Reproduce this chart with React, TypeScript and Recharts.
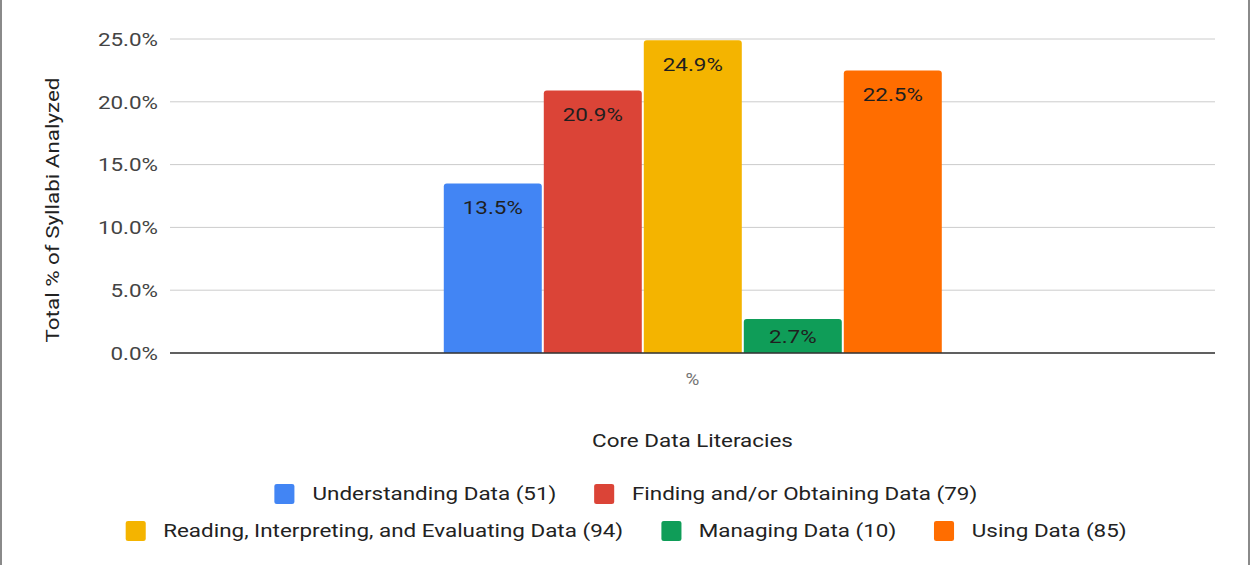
import { Bar, BarChart, CartesianGrid, LabelList, XAxis, YAxis } from "recharts";

const categories = ["%"];
const seriesNames = [
  "Understanding Data (51)",
  "Finding and/or Obtaining Data (79)",
  "Reading, Interpreting, and Evaluating Data (94)",
  "Managing Data (10)",
  "Using Data (85)",
];
const seriesValues = [13.5, 20.9, 24.9, 2.7, 22.5];
const seriesColors = ["#4285f4", "#db4437", "#f4b400", "#0f9d58", "#ff6d00"];
const yTicks = [0, 5, 10, 15, 20, 25];
const legendRows = [
  [0, 1],
  [2, 3, 4],
];

const data = categories.map((name) => {
  const row: Record<string, string | number> = { name };
  seriesNames.forEach((s, i) => {
    row[`s${i}`] = seriesValues[i];
  });
  return row;
});

const FONT = "Roboto, 'Noto Sans', sans-serif";
// the source picture is stretched sideways, so text is widened to match
const SX = 1.18;

function WideText({ x, y, anchor = "middle", rotate = 0, fill = "#222", size = 19, children }: any) {
  return (
    <text
      x={0}
      y={0}
      dy="0.355em"
      transform={`translate(${x} ${y}) rotate(${rotate}) scale(${SX} 1)`}
      textAnchor={anchor}
      fill={fill}
      fontSize={size}
      fontFamily={FONT}
    >
      {children}
    </text>
  );
}

// value label near the top of the bar, or in the middle when the bar is short
function BarValueLabel(props: any) {
  const { x, y, width, height, value } = props;
  const cy = Math.min(y + 24, y + height / 2);
  return (
    <WideText x={x + width / 2} y={cy} fill="#1f1f1f">
      {`${Number(value).toFixed(1)}%`}
    </WideText>
  );
}

function YTick({ x, y, payload }: any) {
  return (
    <WideText x={x} y={y} anchor="end" fill="#444">
      {`${Number(payload.value).toFixed(1)}%`}
    </WideText>
  );
}

function XTick({ x, y, payload }: any) {
  return (
    <WideText x={x} y={y + 6} fill="#757575" size={16}>
      {payload.value}
    </WideText>
  );
}

export default function App() {
  return (
    <div
      style={{
        position: "fixed",
        left: 0,
        top: 0,
        width: 1252,
        height: 565,
        background: "#fff",
        fontFamily: FONT,
        overflow: "hidden",
      }}
    >
      <BarChart
        width={1252}
        height={565}
        data={data}
        margin={{ top: 39, right: 37, left: 0, bottom: 112 }}
        barCategoryGap="26.2%"
        barGap={2}
      >
        <CartesianGrid stroke="#cccccc" vertical={false} />
        <XAxis
          dataKey="name"
          height={100}
          tickLine={false}
          tickSize={0}
          tickMargin={20}
          axisLine={{ stroke: "#333333", strokeWidth: 1.5 }}
          tick={<XTick />}
          label={{
            content: ({ viewBox }: any) => (
              <WideText x={viewBox.x + viewBox.width / 2} y={viewBox.y + 87}>
                Core Data Literacies
              </WideText>
            ),
          }}
        />
        <YAxis
          width={170}
          domain={[0, 25]}
          ticks={yTicks}
          interval={0}
          tickLine={false}
          tickSize={0}
          tickMargin={12}
          axisLine={false}
          tick={<YTick />}
          label={{
            content: () => (
              <WideText x={52} y={210} rotate={-90}>
                Total % of Syllabi Analyzed
              </WideText>
            ),
          }}
        />
        {seriesNames.map((s, i) => (
          <Bar
            key={s}
            dataKey={`s${i}`}
            name={s}
            fill={seriesColors[i]}
            radius={[3, 3, 0, 0]}
            isAnimationActive={false}
          >
            <LabelList dataKey={`s${i}`} content={<BarValueLabel />} />
          </Bar>
        ))}
      </BarChart>

      <div
        style={{
          position: "absolute",
          left: 0,
          top: 475,
          width: 1252,
          transform: `scaleX(${SX})`,
          transformOrigin: "626px 0",
        }}
      >
        {legendRows.map((row, r) => (
          <div
            key={r}
            style={{
              display: "flex",
              justifyContent: "center",
              alignItems: "center",
              gap: 32,
              height: 37,
            }}
          >
            {row.map((i) => (
              <div key={i} style={{ display: "flex", alignItems: "center" }}>
                <span
                  style={{
                    display: "inline-block",
                    width: 17,
                    height: 20,
                    borderRadius: 2,
                    background: seriesColors[i],
                    marginRight: 15,
                  }}
                />
                <span style={{ fontSize: 19, color: "#222", whiteSpace: "nowrap" }}>{seriesNames[i]}</span>
              </div>
            ))}
          </div>
        ))}
      </div>

      <div style={{ position: "absolute", left: 0, top: 0, width: 2, height: 565, background: "#8a8a8a" }} />
      <div style={{ position: "absolute", left: 1248, top: 0, width: 2, height: 565, background: "#8a8a8a" }} />
    </div>
  );
}
